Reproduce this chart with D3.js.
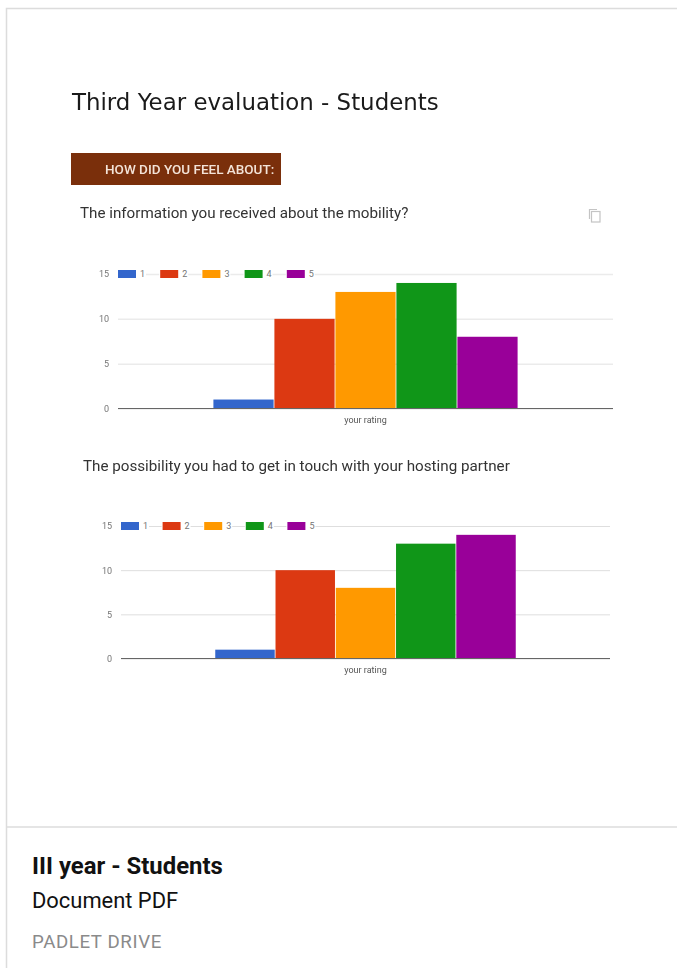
<!DOCTYPE html>
<html>
<head>
<meta charset="utf-8">
<script src="https://cdnjs.cloudflare.com/ajax/libs/d3/7.8.5/d3.min.js"></script>
<style>
  html, body { margin: 0; padding: 0; background: #fff; overflow: hidden; }
  text { font-family: Roboto, sans-serif; }
  .doc { filter: blur(0.35px); }
</style>
</head>
<body>
<div id="chart"></div>
<script>
var ratings = ["1", "2", "3", "4", "5"];
var colours = ["#3366cc", "#dc3912", "#ff9900", "#109618", "#990099"];
var yTicks = [0, 5, 10, 15];
var category = ["your rating"];

var mobilityQuestion = "The information you received about the mobility?";
var mobilityValues = [1, 10, 13, 14, 8];

var partnerQuestion = "The possibility you had to get in touch with your hosting partner";
var partnerValues = [1, 10, 8, 13, 14];

var svg = d3.select("#chart").append("svg")
  .attr("width", 677)
  .attr("height", 968);

// card outline
svg.append("path")
  .attr("d", "M6.5,968V8.5H677")
  .attr("fill", "none")
  .attr("stroke", "#dcdcdc")
  .attr("stroke-width", 1.5);
svg.append("line")
  .attr("x1", 6).attr("x2", 677)
  .attr("y1", 827).attr("y2", 827)
  .attr("stroke", "#dcdcdc")
  .attr("stroke-width", 1.5);

var doc = svg.append("g").attr("class", "doc");

doc.append("text")
  .attr("x", 72).attr("y", 110)
  .style("font-family", "'DejaVu Sans'")
  .style("font-size", "22.9px")
  .attr("fill", "#1a1a1a")
  .text("Third Year evaluation - Students");

doc.append("rect")
  .attr("x", 71).attr("y", 153)
  .attr("width", 210).attr("height", 32)
  .attr("fill", "#7a2f0b");
doc.append("text")
  .attr("x", 105).attr("y", 174)
  .style("font-size", "13.5px")
  .style("font-weight", 500)
  .attr("fill", "#f3e3d8")
  .text("HOW DID YOU FEEL ABOUT:");

// copy icon
doc.append("path")
  .attr("d", "M589.5,219V209.5H597")
  .attr("fill", "none").attr("stroke", "#c4c4c4").attr("stroke-width", 1.2);
doc.append("rect")
  .attr("x", 591.5).attr("y", 211.5)
  .attr("width", 8.5).attr("height", 10.5)
  .attr("fill", "#fff").attr("stroke", "#c4c4c4").attr("stroke-width", 1.2);

function drawQuestion(question, qx, qy, values, box, gridColour, gridWidth) {
  doc.append("text")
    .attr("x", qx).attr("y", qy)
    .style("font-size", "15.2px")
    .attr("fill", "#333")
    .text(question);

  var y = d3.scaleLinear().domain([0, 15]).range([box.bottom, box.top]);
  var x0 = d3.scaleBand().domain(category).range([box.left, box.right]).paddingOuter(0.3115);
  var x1 = d3.scaleBand().domain(ratings).range([x0(category[0]), x0(category[0]) + x0.bandwidth()]);
  var colour = d3.scaleOrdinal().domain(ratings).range(colours);

  var g = doc.append("g");

  var yAxis = d3.axisLeft(y)
    .tickValues(yTicks)
    .tickSize(box.left - box.right)
    .tickPadding(9);
  var axisG = g.append("g")
    .attr("transform", "translate(" + box.left + ",0)")
    .call(yAxis);
  axisG.select(".domain").remove();
  axisG.selectAll(".tick line")
    .attr("stroke", gridColour)
    .attr("stroke-width", gridWidth);
  axisG.selectAll(".tick text")
    .attr("fill", "#757575")
    .style("font-size", "9px")
    .style("font-family", "Roboto, sans-serif");

  g.selectAll("rect.bar")
    .data(values)
    .enter().append("rect")
    .attr("class", "bar")
    .attr("x", function(d, i) { return x1(ratings[i]) + 0.4; })
    .attr("y", function(d) { return y(d); })
    .attr("width", x1.bandwidth() - 0.8)
    .attr("height", function(d) { return y(0) - y(d); })
    .attr("fill", function(d, i) { return colour(ratings[i]); });

  g.append("line")
    .attr("x1", box.left).attr("x2", box.right)
    .attr("y1", y(0)).attr("y2", y(0))
    .attr("stroke", "#666")
    .attr("stroke-width", 1);

  g.append("text")
    .attr("x", (box.left + box.right) / 2)
    .attr("y", box.bottom + 14)
    .attr("text-anchor", "middle")
    .style("font-size", "9px")
    .attr("fill", "#555")
    .text(category[0]);

  // legend sits on the top gridline
  var legend = g.selectAll("g.legend")
    .data(ratings)
    .enter().append("g")
    .attr("class", "legend")
    .attr("transform", function(d, i) {
      return "translate(" + (box.left + i * box.legendStep) + "," + y(15) + ")";
    });
  legend.append("rect")
    .attr("x", -1).attr("y", -6)
    .attr("width", 29).attr("height", 12)
    .attr("fill", "#fff");
  legend.append("rect")
    .attr("x", 0).attr("y", -4)
    .attr("width", 18).attr("height", 8)
    .attr("fill", function(d) { return colour(d); });
  legend.append("text")
    .attr("x", 22).attr("y", 3.2)
    .style("font-size", "9px")
    .attr("fill", "#757575")
    .text(function(d) { return d; });
}

drawQuestion(mobilityQuestion, 80, 218, mobilityValues,
  { left: 118, right: 613, top: 274, bottom: 408.5, legendStep: 42.2 }, "#ebebeb", 1.5);
drawQuestion(partnerQuestion, 83, 471, partnerValues,
  { left: 121, right: 610, top: 526, bottom: 658.5, legendStep: 41.6 }, "#dedede", 1);

// footer
svg.append("text")
  .attr("x", 32).attr("y", 874)
  .style("font-size", "23.9px")
  .style("font-weight", 700)
  .attr("fill", "#111")
  .text("III year - Students");
svg.append("text")
  .attr("x", 32).attr("y", 908)
  .style("font-size", "21.9px")
  .attr("fill", "#111")
  .text("Document PDF");
svg.append("text")
  .attr("x", 32).attr("y", 948)
  .style("font-size", "18.7px")
  .style("letter-spacing", "0.6px")
  .attr("fill", "#8a8a8a")
  .text("PADLET DRIVE");
</script>
</body>
</html>
